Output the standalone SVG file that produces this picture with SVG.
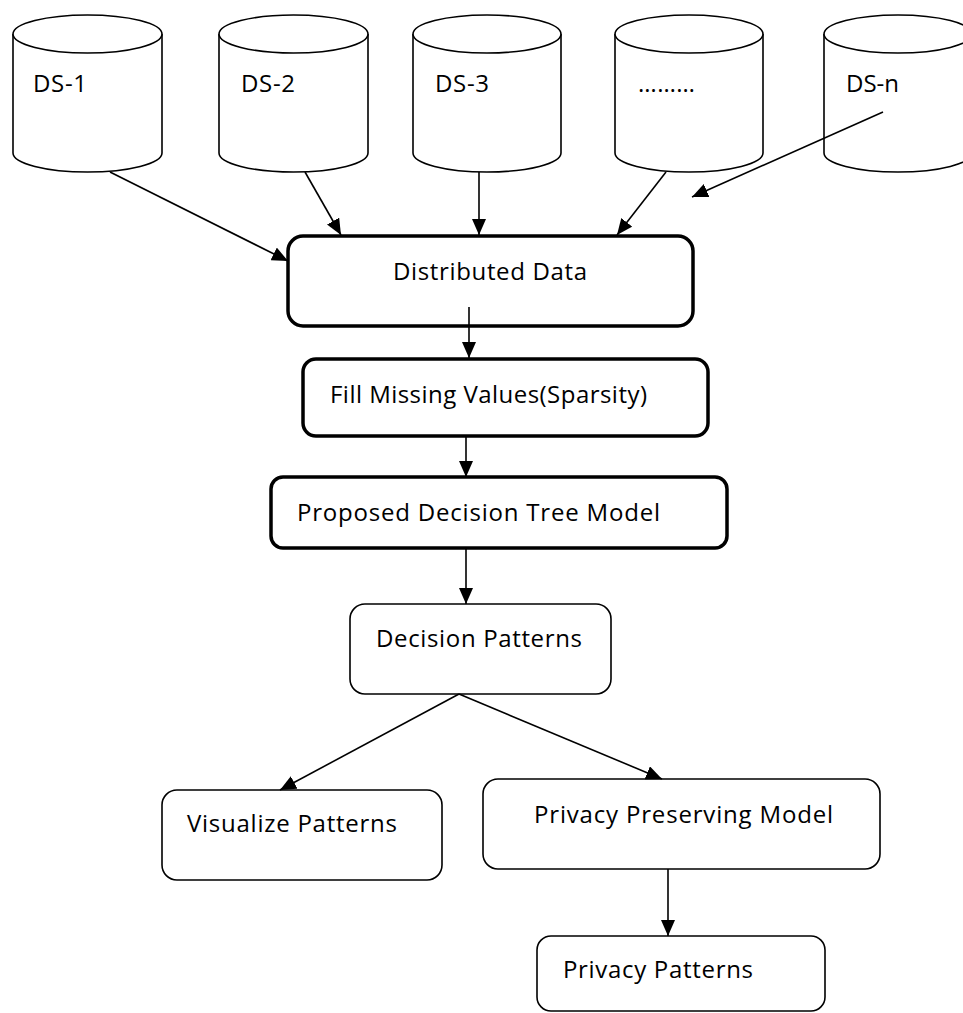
<svg xmlns="http://www.w3.org/2000/svg" width="963" height="1013" viewBox="0 0 963 1013">
<style>
.cyl{fill:#fff;stroke:#000;stroke-width:1.6}
.thick{fill:#fff;stroke:#000;stroke-width:3.5}
.thin{fill:#fff;stroke:#000;stroke-width:1.6}
.lbl{font-family:"Open Sans","Liberation Sans",Arial,sans-serif;font-size:24px;fill:#000}
.con{stroke:#000;stroke-width:1.6;fill:none;marker-end:url(#ah)}
</style>
<defs>
<marker id="ah" markerUnits="userSpaceOnUse" markerWidth="16" markerHeight="14" viewBox="0 0 16 14" refX="16" refY="7" orient="auto">
<path d="M0,0 L16,7 L0,14 Z" fill="#000"/>
</marker>
</defs>
<rect width="963" height="1013" fill="#fff"/>
<g id="ds1">
<path class="cyl" d="M13,34 L13,153 A74.5,19 0 0 0 162,153 L162,34"/>
<ellipse class="cyl" cx="87.5" cy="34" rx="74.5" ry="19"/>
<text class="lbl" x="33" y="92" textLength="54">DS-1</text>
</g>
<g id="ds2">
<path class="cyl" d="M219,34 L219,153 A74.5,19 0 0 0 368,153 L368,34"/>
<ellipse class="cyl" cx="293.5" cy="34" rx="74.5" ry="19"/>
<text class="lbl" x="241" y="92" textLength="54">DS-2</text>
</g>
<g id="ds3">
<path class="cyl" d="M413,34 L413,153 A74,19 0 0 0 561,153 L561,34"/>
<ellipse class="cyl" cx="487" cy="34" rx="74" ry="19"/>
<text class="lbl" x="435" y="92" textLength="54">DS-3</text>
</g>
<g id="ds4">
<path class="cyl" d="M615,34 L615,153 A74,19 0 0 0 763,153 L763,34"/>
<ellipse class="cyl" cx="689" cy="34" rx="74" ry="19"/>
<text class="lbl" x="638" y="92" textLength="57">………</text>
</g>
<g id="dsn">
<path class="cyl" d="M824,34 L824,153 A74,19 0 0 0 972,153 L972,34"/>
<ellipse class="cyl" cx="898" cy="34" rx="74" ry="19"/>
<text class="lbl" x="846" y="92" textLength="53">DS-n</text>
</g>
<g id="distributed">
<rect class="thick" x="288" y="236" width="405" height="90" rx="15"/>
<text class="lbl" x="393" y="280" textLength="194">Distributed Data</text>
</g>
<g id="fill">
<rect class="thick" x="303" y="359" width="405" height="77" rx="13"/>
<text class="lbl" x="330" y="403" textLength="317">Fill Missing Values(Sparsity)</text>
</g>
<g id="proposed">
<rect class="thick" x="271" y="477" width="456" height="71" rx="12"/>
<text class="lbl" x="297" y="521" textLength="363">Proposed Decision Tree Model</text>
</g>
<g id="decision">
<rect class="thin" x="350" y="604" width="261" height="90" rx="15"/>
<text class="lbl" x="376" y="647" textLength="206">Decision Patterns</text>
</g>
<g id="visualize">
<rect class="thin" x="162" y="790" width="280" height="90" rx="15"/>
<text class="lbl" x="187" y="832" textLength="210">Visualize Patterns</text>
</g>
<g id="privacymodel">
<rect class="thin" x="483" y="779" width="397" height="90" rx="15"/>
<text class="lbl" x="534" y="823" textLength="299">Privacy Preserving Model</text>
</g>
<g id="privacypatterns">
<rect class="thin" x="537" y="936" width="288" height="75" rx="14"/>
<text class="lbl" x="563" y="978" textLength="190">Privacy Patterns</text>
</g>
<g id="connectors">
<line class="con" x1="110" y1="172" x2="288" y2="261"/>
<line class="con" x1="305" y1="172" x2="341" y2="235"/>
<line class="con" x1="479" y1="172" x2="479" y2="235"/>
<line class="con" x1="666" y1="172" x2="617" y2="235"/>
<line class="con" x1="883" y1="112" x2="692" y2="197"/>
<line class="con" x1="469" y1="307" x2="469" y2="358"/>
<line class="con" x1="466" y1="436" x2="466" y2="477"/>
<line class="con" x1="466" y1="548" x2="466" y2="604"/>
<line class="con" x1="459" y1="694" x2="280" y2="790"/>
<line class="con" x1="459" y1="694" x2="662" y2="779"/>
<line class="con" x1="668" y1="869" x2="668" y2="936"/>
</g>
</svg>
